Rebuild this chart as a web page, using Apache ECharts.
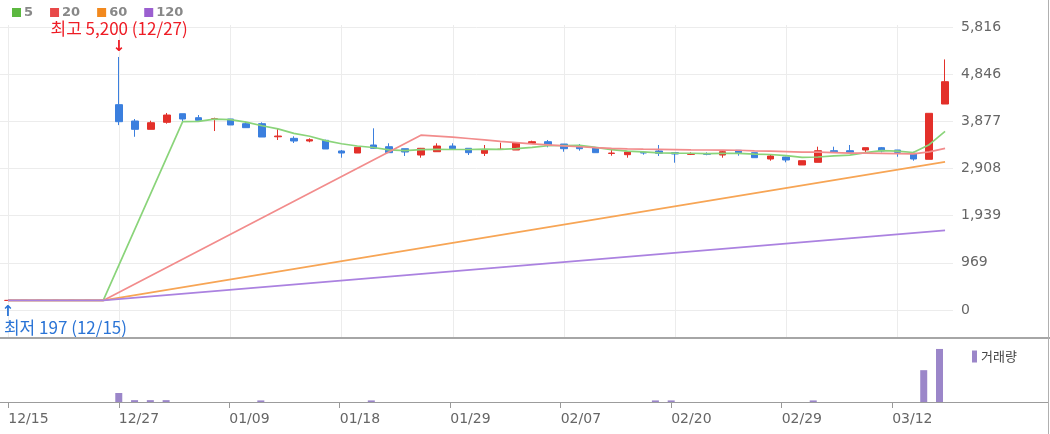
<!DOCTYPE html>
<html><head><meta charset="utf-8">
<script src="https://cdn.jsdelivr.net/npm/echarts@6/dist/echarts.min.js"></script>
<style>html,body{margin:0;padding:0;background:#fff}#c{width:1050px;height:434px}</style>
</head><body><div id="c"></div>
<script>
const dates = ['12/15','12/18','12/19','12/20','12/21','12/22','12/26','12/27','12/28','01/02',
'01/03','01/04','01/05','01/08','01/09','01/10','01/11','01/12','01/15','01/16',
'01/17','01/18','01/19','01/22','01/23','01/24','01/25','01/26','01/29','01/30',
'01/31','02/01','02/02','02/05','02/06','02/07','02/08','02/13','02/14','02/15',
'02/16','02/19','02/20','02/21','02/22','02/23','02/26','02/27','02/28','02/29',
'03/04','03/05','03/06','03/07','03/08','03/11','03/12','03/13','03/14','03/15'];
const openP = [197,197,197,197,197,197,197,4220,3884,3713,
3857,4034,3952,3920,3925,3829,3829,3560,3528,3473,
3487,3268,3226,3391,3356,3315,3185,3253,3370,3323,
3220,3298,3288,3426,3459,3411,3356,3329,3218,3192,
3240,3268,3233,3200,3210,3185,3282,3233,3103,3144,
2980,3035,3274,3274,3288,3336,3288,3220,3097,4233];
const closeP = [197,197,197,197,197,197,197,3870,3713,3849,
4007,3925,3898,3930,3802,3747,3555,3575,3473,3500,
3309,3226,3344,3323,3233,3247,3323,3370,3315,3233,
3288,3305,3439,3459,3391,3315,3315,3233,3225,3247,
3226,3220,3206,3206,3200,3253,3233,3130,3165,3083,
3068,3274,3253,3240,3336,3268,3240,3103,4042,4692];
const lowP = [197,197,197,197,197,197,197,3800,3560,3713,
3829,3884,3898,3678,3802,3747,3555,3494,3432,3446,
3309,3130,3226,3309,3233,3165,3130,3253,3288,3185,
3165,3298,3288,3426,3344,3253,3274,3233,3171,3130,
3192,3165,3027,3185,3180,3130,3171,3130,3068,3035,
2980,3035,3253,3240,3233,3240,3150,3068,3097,4233];
const highP = [197,197,197,197,197,197,197,5200,3925,3890,
4049,4034,4007,3952,3925,3870,3857,3734,3570,3528,
3500,3288,3344,3734,3426,3315,3330,3426,3426,3323,
3391,3439,3439,3480,3494,3411,3411,3329,3315,3268,
3268,3391,3233,3240,3240,3288,3282,3233,3200,3150,
3068,3356,3356,3391,3336,3350,3288,3253,4042,5150];
const ma5 = [197,197,197,197,197,197,197,null,null,null,
null,3873,3878,3922,3912,3860,3786,3722,3630,3570,
3482,3417,3370,3340,3290,3275,3294,3299,3298,3298,
3306,3302,3315,3344,3376,3381,3384,3343,3296,3267,
3249,3230,3225,3221,3212,3217,3220,3204,3196,3173,
3136,3144,3169,3184,3234,3274,3267,3237,3398,3669];
const ma20 = [197,197,197,197,197,197,197,null,null,null,
null,null,null,null,null,null,null,null,null,null,
null,null,null,null,null,null,3592,3572,3552,3525,
3495,3465,3440,3415,3395,3372,3355,3338,3323,3312,
3305,3302,3296,3290,3288,3287,3283,3272,3264,3256,
3246,3244,3235,3226,3222,3219,3215,3209,3250,3322];
const ma60 = [197,197,197,197,197,197,197,null,null,null,
null,null,null,null,null,null,null,null,null,null,
null,null,null,null,null,null,null,null,null,null,
null,null,null,null,null,null,null,null,null,null,
null,null,null,null,null,null,null,null,null,null,
null,null,null,null,null,null,null,null,null,3045];
const ma120 = [197,197,197,197,197,197,197,null,null,null,
null,null,null,null,null,null,null,null,null,null,
null,null,null,null,null,null,null,null,null,null,
null,null,null,null,null,null,null,null,null,null,
null,null,null,null,null,null,null,null,null,null,
null,null,null,null,null,null,null,null,null,1635];
const volume = [0,0,0,0,0,0,0,17,3.5,3.5,
3.5,0,0,0,0,0,3,0,0,0,
0,0,0,3,0,0,0,0,0,0,
0,0,0,0,0,0,0,0,0,0,
0,3,3,0,0,0,0,0,0,0,
0,3,0,0,0,0,0,0,60,100];
const priceTicks = ['0','969','1,939','2,908','3,877','4,846','5,816'];
const priceMax = 5816;
const volMax = 115;
const labelEvery = 7;
const maNames = ['5','20','60','120'];
const maLegendColors = ['#5cb840','#e84848','#f2891e','#9b5fd0'];
const maLineColors = ['#8ad47a','#f28c8c','#f7a555','#ab82e0'];
const hiLabel = '최고 5,200 (12/27)';
const loLabel = '최저 197 (12/15)';
const hiIndex = 7, hiValue = 5200;
const loIndex = 0, loValue = 197;

const candles = dates.map((d, i) => [openP[i], closeP[i], lowP[i], highP[i]]);
const step = priceMax / 6;
const chart = echarts.init(document.getElementById('c'), null, {renderer: 'canvas'});
const maData = [ma5, ma20, ma60, ma120];

const option = {
  animation: false,
  backgroundColor: '#fff',
  legend: [{
    left: 12, top: 6, padding: 0, itemGap: 17, itemWidth: 9, itemHeight: 9, icon: 'rect',
    selectedMode: false,
    textStyle: {fontFamily: 'DejaVu Sans', fontWeight: 'bold', fontSize: 13, color: '#888', padding: [1,0,0,-2]},
    data: maNames.map((n, k) => ({name: n, itemStyle: {color: maLegendColors[k]}}))
  }, {
    left: 972, top: 350, padding: 0, itemWidth: 5, itemHeight: 12, icon: 'rect', selectedMode: false,
    textStyle: {fontFamily: 'Noto Sans CJK KR', fontSize: 13, color: '#444', padding: [0,0,0,-1]},
    data: [{name: '거래량', itemStyle: {color: '#9b86c9'}}]
  }],
  grid: [
    {left: 0, top: 27, width: 953, height: 283},
    {left: 0.4, top: 341, width: 947, height: 61}
  ],
  xAxis: [
    {type: 'category', gridIndex: 0, data: dates, boundaryGap: true,
     axisLine: {show: false}, axisTick: {show: false}, axisLabel: {show: false}, splitLine: {show: false}},
    {type: 'category', gridIndex: 1, data: dates, boundaryGap: true,
     axisLine: {show: false},
     axisTick: {show: true, interval: labelEvery - 1, alignWithLabel: true, length: 6, lineStyle: {color: '#999'}},
     axisLabel: {show: true, interval: labelEvery - 1, align: 'left', margin: 10, fontFamily: 'DejaVu Sans', fontSize: 14, color: '#666'},
     splitLine: {show: false}}
  ],
  yAxis: [
    {type: 'value', gridIndex: 0, position: 'right', min: 0, max: priceMax, interval: step,
     axisLine: {show: false}, axisTick: {show: false},
     axisLabel: {margin: 8, fontFamily: 'DejaVu Sans', fontSize: 14, color: '#666',
       formatter: v => priceTicks[Math.round(v / step)]},
     splitLine: {show: true, lineStyle: {color: '#ececec', width: 1}}},
    {type: 'value', gridIndex: 1, min: 0, max: volMax, show: false, splitLine: {show: false}}
  ],
  series: [
    {type: 'candlestick', name: 'price', xAxisIndex: 0, yAxisIndex: 0, data: candles, barWidth: 7, z: 3,
     itemStyle: {color: '#e3302a', color0: '#3b7fde', borderColor: '#e3302a', borderColor0: '#3b7fde', borderWidth: 1},
     markPoint: {
       symbol: 'circle', symbolSize: 0, silent: true, animation: false,
       data: [
         {coord: [hiIndex, hiValue], label: {show: true, position: 'inside', offset: [0, -28], formatter: hiLabel,
           fontFamily: 'Noto Sans CJK KR', fontSize: 17, color: '#ee1c25'}},
         {coord: [hiIndex, hiValue], label: {show: true, position: 'inside', offset: [0, -10], formatter: '↓',
           fontFamily: 'DejaVu Sans', fontSize: 15, fontWeight: 'bold', color: '#ee1c25'}},
         {coord: [loIndex, loValue], label: {show: true, position: 'inside', offset: [0, 12], formatter: '↑',
           fontFamily: 'DejaVu Sans', fontSize: 15, fontWeight: 'bold', color: '#2a74d6'}},
         {coord: [loIndex, loValue], label: {show: true, position: 'inside', align: 'left', offset: [-4, 27], formatter: loLabel,
           fontFamily: 'Noto Sans CJK KR', fontSize: 17, color: '#2a74d6'}}
       ]
     }},
    ...maNames.map((n, k) => ({
      type: 'line', name: n, xAxisIndex: 0, yAxisIndex: 0, data: maData[k], showSymbol: false, symbol: 'none',
      connectNulls: true, z: 4, color: maLegendColors[k],
      lineStyle: {color: maLineColors[k], width: 1.7}
    })),
    {type: 'bar', name: '거래량', xAxisIndex: 1, yAxisIndex: 1, data: volume, barWidth: 7, z: 3,
     itemStyle: {color: '#9b86c9'}}
  ]
};
chart.setOption(option);

// frame and vertical grid lines placed via the library's scales
const g = [];
for (let i = 0; i < dates.length; i += labelEvery) {
  const x = Math.round(chart.convertToPixel({xAxisIndex: 0}, i)) + 0.5;
  g.push({type: 'line', z: -1, silent: true, shape: {x1: x, y1: 25, x2: x, y2: 337}, style: {stroke: '#ececec', lineWidth: 1}});
}
g.push({type: 'line', z: 10, silent: true, shape: {x1: 0, y1: 338, x2: 1050, y2: 338}, style: {stroke: '#a6a6a6', lineWidth: 2}});
g.push({type: 'line', z: 10, silent: true, shape: {x1: 0, y1: 402.5, x2: 1048, y2: 402.5}, style: {stroke: '#9c9c9c', lineWidth: 1}});
g.push({type: 'line', z: 10, silent: true, shape: {x1: 1048.5, y1: 0, x2: 1048.5, y2: 434}, style: {stroke: '#b0b0b0', lineWidth: 1}});
chart.setOption({graphic: {elements: g}});
</script></body></html>
